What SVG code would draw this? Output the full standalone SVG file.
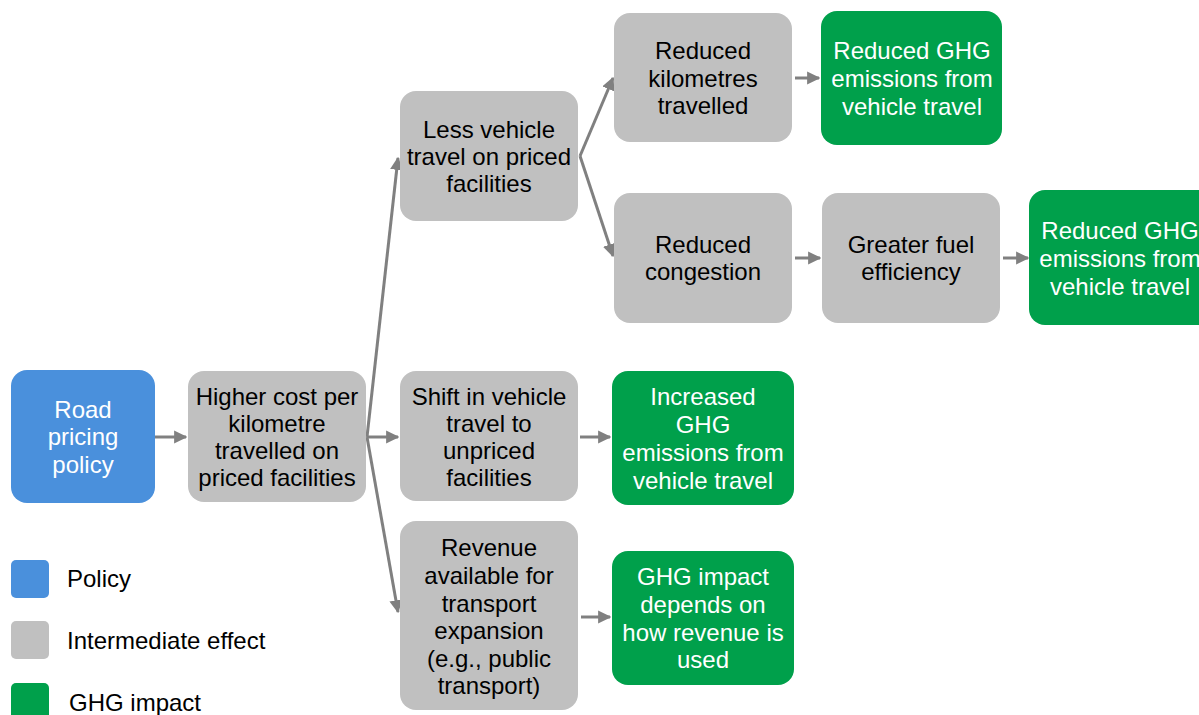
<svg xmlns="http://www.w3.org/2000/svg" width="1199" height="715" viewBox="0 0 1199 715">
<defs>
<marker id="ah" viewBox="0 0 10 10" refX="9" refY="5" markerWidth="4.4" markerHeight="4.4" orient="auto" markerUnits="strokeWidth">
<path d="M0,0 L10,5 L0,10 z" fill="#808080"/>
</marker>
<style>
.p{fill:#4a90dc}.g{fill:#c0c0c0}.e{fill:#00a04b}
text{font-family:"Liberation Sans",Arial,sans-serif;font-size:24px;text-anchor:middle}
.dk{fill:#000}.wt{fill:#fff}
.c{stroke:#808080;stroke-width:3;fill:none;marker-end:url(#ah)}
.lg{text-anchor:start;font-size:24px}
</style>
</defs>
<rect width="1199" height="715" fill="#fff"/>
<g id="connectors">
<line class="c" x1="155" y1="437" x2="186" y2="437"/>
<line class="c" x1="367" y1="437" x2="398" y2="158"/>
<line class="c" x1="367" y1="437" x2="398" y2="437"/>
<line class="c" x1="367" y1="437" x2="398" y2="612"/>
<line class="c" x1="580" y1="156" x2="613" y2="78"/>
<line class="c" x1="580" y1="156" x2="613" y2="256"/>
<line class="c" x1="795" y1="78" x2="819" y2="78"/>
<line class="c" x1="795" y1="258" x2="820" y2="258"/>
<line class="c" x1="1003" y1="258" x2="1028" y2="258"/>
<line class="c" x1="580" y1="437" x2="610" y2="437"/>
<line class="c" x1="581" y1="617" x2="610" y2="617"/>
</g>
<g id="road-pricing">
<rect class="p" x="11" y="370" width="144" height="133" rx="16"/>
<text class="wt"><tspan x="83" y="418">Road</tspan><tspan x="83" y="445">pricing</tspan><tspan x="83" y="473">policy</tspan></text>
</g>
<g id="higher-cost">
<rect class="g" x="188" y="371" width="178" height="131" rx="16"/>
<text class="dk"><tspan x="277" y="405">Higher cost per</tspan><tspan x="277" y="432">kilometre</tspan><tspan x="277" y="459">travelled on</tspan><tspan x="277" y="486">priced facilities</tspan></text>
</g>
<g id="less-vehicle">
<rect class="g" x="400" y="91" width="178" height="130" rx="16"/>
<text class="dk"><tspan x="489" y="138">Less vehicle</tspan><tspan x="489" y="165">travel on priced</tspan><tspan x="489" y="192">facilities</tspan></text>
</g>
<g id="shift">
<rect class="g" x="400" y="371" width="178" height="130" rx="16"/>
<text class="dk"><tspan x="489" y="405">Shift in vehicle</tspan><tspan x="489" y="432">travel to</tspan><tspan x="489" y="459">unpriced</tspan><tspan x="489" y="486">facilities</tspan></text>
</g>
<g id="revenue">
<rect class="g" x="400" y="521" width="178" height="189" rx="16"/>
<text class="dk"><tspan x="489" y="556">Revenue</tspan><tspan x="489" y="584">available for</tspan><tspan x="489" y="612">transport</tspan><tspan x="489" y="639">expansion</tspan><tspan x="489" y="667">(e.g., public</tspan><tspan x="489" y="694">transport)</tspan></text>
</g>
<g id="reduced-km">
<rect class="g" x="614" y="13" width="178" height="129" rx="16"/>
<text class="dk"><tspan x="703" y="59">Reduced</tspan><tspan x="703" y="87">kilometres</tspan><tspan x="703" y="114">travelled</tspan></text>
</g>
<g id="ghg-reduced-1">
<rect class="e" x="821" y="11" width="181" height="134" rx="16"/>
<text class="wt"><tspan x="912" y="59">Reduced GHG</tspan><tspan x="912" y="87">emissions from</tspan><tspan x="912" y="115">vehicle travel</tspan></text>
</g>
<g id="reduced-congestion">
<rect class="g" x="614" y="193" width="178" height="130" rx="16"/>
<text class="dk"><tspan x="703" y="253">Reduced</tspan><tspan x="703" y="280">congestion</tspan></text>
</g>
<g id="greater-fuel">
<rect class="g" x="822" y="193" width="178" height="130" rx="16"/>
<text class="dk"><tspan x="911" y="253">Greater fuel</tspan><tspan x="911" y="280">efficiency</tspan></text>
</g>
<g id="ghg-reduced-2">
<rect class="e" x="1029" y="190" width="190" height="135" rx="16"/>
<text class="wt"><tspan x="1120" y="239">Reduced GHG</tspan><tspan x="1120" y="267">emissions from</tspan><tspan x="1120" y="295">vehicle travel</tspan></text>
</g>
<g id="ghg-increased">
<rect class="e" x="612" y="371" width="182" height="134" rx="16"/>
<text class="wt"><tspan x="703" y="405">Increased</tspan><tspan x="703" y="433">GHG</tspan><tspan x="703" y="461">emissions from</tspan><tspan x="703" y="489">vehicle travel</tspan></text>
</g>
<g id="ghg-depends">
<rect class="e" x="612" y="551" width="182" height="134" rx="16"/>
<text class="wt"><tspan x="703" y="585">GHG impact</tspan><tspan x="703" y="613">depends on</tspan><tspan x="703" y="641">how revenue is</tspan><tspan x="703" y="668">used</tspan></text>
</g>
<g id="legend">
<rect class="p" x="11" y="560" width="38" height="38" rx="5"/>
<text class="dk lg" x="67" y="587">Policy</text>
<rect class="g" x="11" y="621" width="38" height="38" rx="5"/>
<text class="dk lg" x="67" y="649">Intermediate effect</text>
<rect class="e" x="11" y="683" width="38" height="38" rx="5"/>
<text class="dk lg" x="69" y="711">GHG impact</text>
</g>
</svg>
